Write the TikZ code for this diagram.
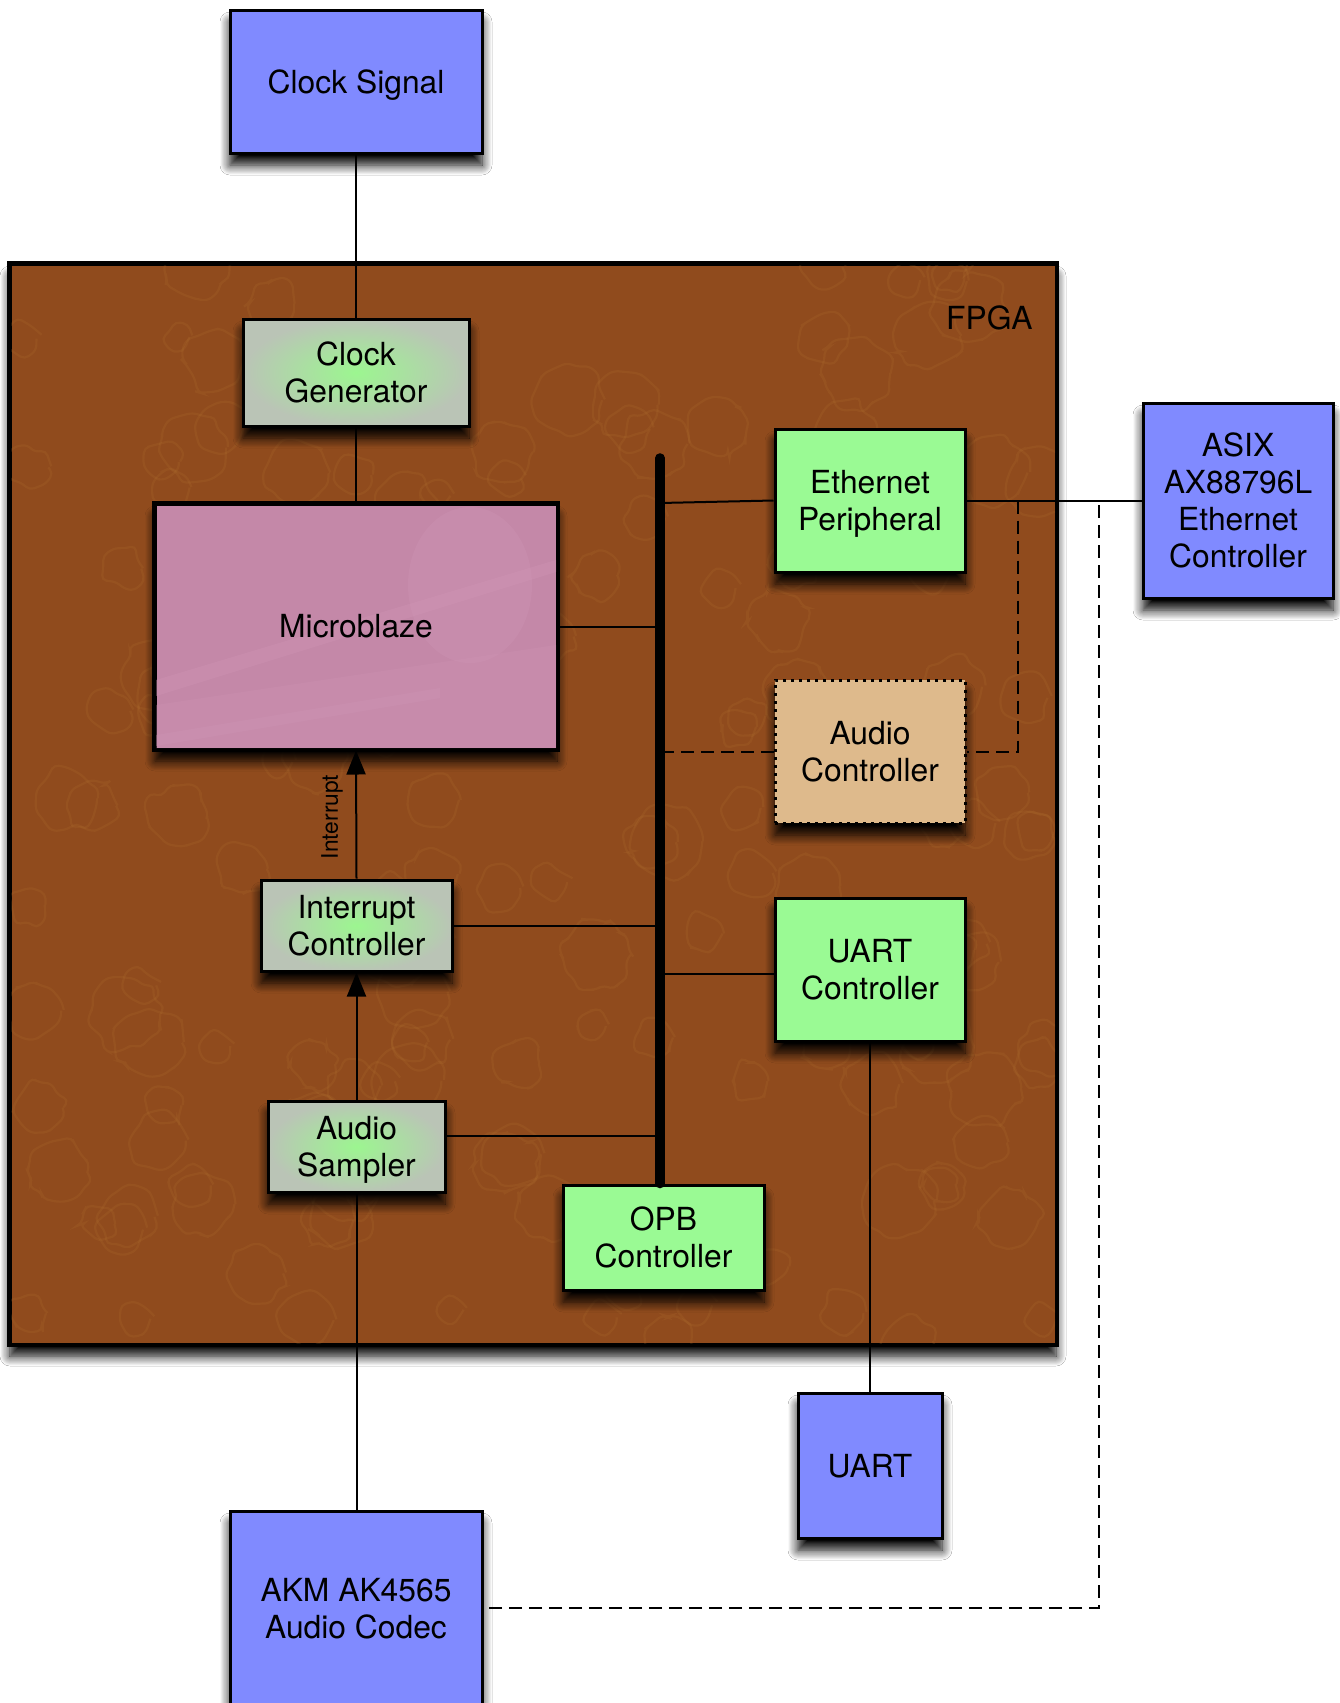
\documentclass[tikz,border=0pt]{standalone}
\usepackage{fontspec}
\setmainfont{TeX Gyre Heros}
\usetikzlibrary{arrows.meta,shadows.blur,decorations.pathmorphing}

\definecolor{fpgabrown}{RGB}{144,75,29}
\definecolor{veins}{RGB}{182,118,52}
\definecolor{mbpink}{RGB}{196,136,168}
\definecolor{mblight}{RGB}{208,150,182}
\definecolor{pgreen}{RGB}{154,250,148}
\definecolor{pblue}{RGB}{128,138,255}
\definecolor{tan}{RGB}{222,186,140}
\definecolor{gcenter}{RGB}{156,246,144}
\definecolor{gouter}{RGB}{186,196,182}

\tikzset{
  dropshadow/.style={blur shadow={shadow xshift=0pt, shadow yshift=-6pt, shadow blur radius=5pt, shadow opacity=100, shadow blur steps=10}},
  box/.style={draw=black, line width=1.5pt, inner sep=0pt, align=center, text depth=0pt,
    font=\fontsize{15.9pt}{18.5pt}\selectfont, dropshadow},
  extbox/.style={box, fill=pblue},
  greenbox/.style={box, fill=pgreen},
  gradbox/.style={box, inner color=gcenter, outer color=gouter},
  wire/.style={draw=black, line width=1pt},
  dashwire/.style={draw=black, line width=1pt, dash pattern=on 6.5pt off 3.5pt},
  arrowwire/.style={wire, -{Triangle[length=12pt, width=9.5pt]}},
  bus/.style={draw=black, line width=4.8pt, line cap=round},
  vein/.style={draw=veins, line width=1.1pt, opacity=0.17,
    decorate, decoration={random steps, segment length=5pt, amplitude=2.5pt}, rounded corners=2.5pt},
}

\begin{document}
\begin{tikzpicture}[x=0.5pt, y=-0.5pt]
  \useasboundingbox (0,0) rectangle (1339,1703);
  \fill[white] (0,0) rectangle (1339,1703);

  % FPGA die
  \node[box, fill=fpgabrown, minimum width=523pt, minimum height=540pt] (fpga) at (533,804) {};

  % faint cell texture on the die
  \begin{scope}
    \clip (11,265) rectangle (1055,1343);
    \pgfmathsetseed{4711}
    \foreach \i in {1,...,170}{
      \pgfmathsetmacro{\cx}{10+1040*rnd}
      \pgfmathsetmacro{\cy}{265+1080*rnd}
      \pgfmathsetmacro{\rr}{12+24*rnd}
      \draw[vein] (\cx,\cy) circle[radius=\rr];
    }
  \end{scope}
  \draw[line width=1.5pt] (fpga.south west) rectangle (fpga.north east);
  \node[font=\fontsize{15.9pt}{18.5pt}\selectfont, inner sep=0pt, anchor=east] (fpgalbl) at (1033,318) {FPGA};

  % off-chip parts
  \node[extbox, minimum width=126pt, minimum height=71.5pt] (clksig) at (356,81.5) {Clock Signal};
  \node[extbox, minimum width=95pt, minimum height=97.5pt] (asix) at (1238,500.5) {ASIX\\AX88796L\\Ethernet\\Controller};
  \node[extbox, minimum width=72pt, minimum height=72.5pt] (uart) at (870,1465.5) {UART};
  \node[extbox, minimum width=126pt, minimum height=97pt] (codec) at (356,1608) {AKM AK4565\\Audio Codec};

  % on-chip blocks
  \node[gradbox, minimum width=113pt, minimum height=53.5pt] (clkgen) at (356,372.5) {Clock\\Generator};
  \node[box, fill=mbpink, minimum width=201pt, minimum height=122.5pt] (mb) at (356,626.5) {};
  % faint photo-like shading inside the processor block
  \begin{scope}
    \clip (156,505) rectangle (556,748);
    \fill[mblight, opacity=0.35] (156,680) -- (556,560) -- (556,572) -- (156,696) -- cycle;
    \fill[mblight, opacity=0.3] (156,735) -- (440,688) -- (440,698) -- (156,746) -- cycle;
    \fill[mblight, opacity=0.3] (470,585) ellipse[x radius=62, y radius=78];
    \fill[mblight, opacity=0.25] (156,705) -- (556,645) -- (556,748) -- (156,748) -- cycle;
  \end{scope}
  \draw[line width=1.5pt] (mb.south west) rectangle (mb.north east);
  \node[font=\fontsize{15.9pt}{18.5pt}\selectfont, inner sep=0pt] (mblbl) at (mb) {Microblaze};

  \node[greenbox, minimum width=95pt, minimum height=71.5pt] (eth) at (870,500.5) {Ethernet\\Peripheral};
  \node[box, fill=tan, dash pattern=on 1.5pt off 2.5pt, minimum width=95pt, minimum height=71.5pt] (audctl) at (870,751.5) {Audio\\Controller};
  \node[greenbox, minimum width=95pt, minimum height=71.5pt] (uartc) at (870,969.5) {UART\\Controller};
  \node[gradbox, minimum width=95.5pt, minimum height=45.5pt] (ic) at (356.5,925.5) {Interrupt\\Controller};
  \node[gradbox, minimum width=88.5pt, minimum height=45.5pt] (samp) at (356.5,1146.5) {Audio\\Sampler};
  \node[greenbox, minimum width=100.5pt, minimum height=52.5pt] (opb) at (663.5,1237.5) {OPB\\Controller};

  % junction points
  \coordinate (busTop) at (660,458);
  \coordinate (ethTap) at (660,503);
  \coordinate (uartTap) at (775,974);
  \coordinate (sampTap) at (445,1136);
  \coordinate (ethSplit) at (1018,500.5);
  \coordinate (codecSplit) at (1099,505);

  % clock and audio paths
  \draw[wire] (clksig.south) -- (clkgen.north);
  \draw[wire] (clkgen.south) -- (mb.north);
  \draw[wire] (samp.south) -- (samp.south |- codec.north);
  \draw[arrowwire] (samp.north) -- (ic.south);
  \draw[arrowwire] (ic.north) -- (mb.south);
  \node[rotate=90, inner sep=0pt, font=\fontsize{11.4pt}{13pt}\selectfont] (intlbl) at (332,817) {Interrupt};

  % bus taps
  \draw[wire] (mb.east) -- (mb.east -| busTop);
  \draw[wire] (ethTap) -- (eth.west);
  \draw[wire] (ic.east) -- (ic.east -| busTop);
  \draw[wire] (sampTap) -- (sampTap -| busTop);
  \draw[wire] (uartTap -| busTop) -- (uartTap);
  \draw[wire] (uartc.south) -- (uart.north);
  \draw[wire] (eth.east) -- (asix.west);

  % optional audio controller hookups
  \draw[dashwire] (ethSplit) |- (audctl.east);
  \draw[dashwire] (audctl.west) -- (audctl.west -| busTop);
  \draw[dashwire] (codecSplit) |- (codec.east);

  % OPB bus
  \draw[bus] (busTop) -- (busTop |- opb.north);
\end{tikzpicture}
\end{document}
